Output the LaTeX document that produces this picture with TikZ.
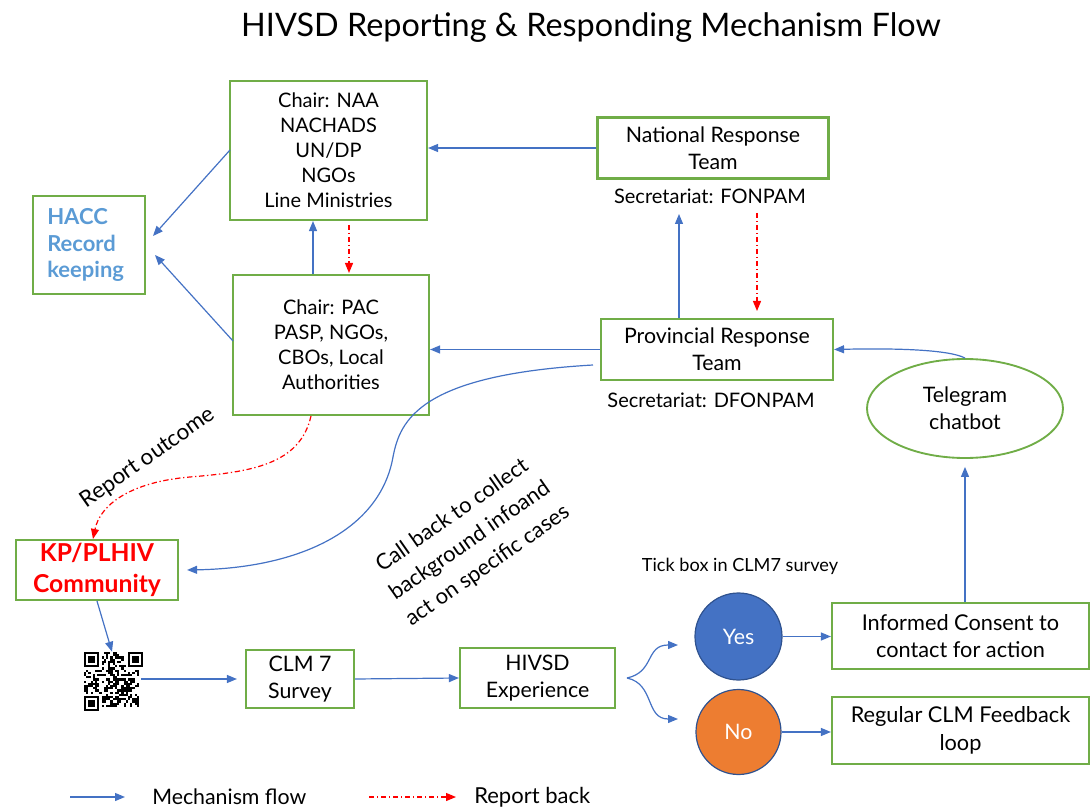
\documentclass[tikz,border=0pt]{standalone}
\usepackage{fontspec}
\setmainfont{Lato}
\usetikzlibrary{arrows.meta,shapes.geometric}
\newcommand{\px}{0.75pt}
\definecolor{bflow}{HTML}{4472C4}
\definecolor{gbox}{HTML}{70AD47}
\definecolor{rback}{HTML}{FF0000}
\definecolor{hacc}{HTML}{5B9BD5}
\definecolor{yesc}{HTML}{4472C4}
\definecolor{noc}{HTML}{ED7D31}
\definecolor{circedge}{HTML}{2F528F}
\tikzset{
  gbx/.style={draw=gbox, line width=1.6pt, align=center, inner sep=0pt,
    font=\fontsize{15}{18.75}\selectfont},
  big/.style={font=\fontsize{16}{20}\selectfont},
  flow/.style={draw=bflow, line width=0.9pt, -{Triangle[length=7.5pt,width=6pt]}},
  back/.style={draw=rback, line width=0.9pt, dash pattern=on 4pt off 2pt on 1pt off 2pt,
    -{Triangle[length=7.5pt,width=6pt]}},
  circ/.style={circle, draw=circedge, line width=0.9pt, inner sep=0pt, text=white,
    font=\fontsize{16}{18}\selectfont},
  lbl/.style={align=center, inner sep=0pt, font=\fontsize{15}{18.75}\selectfont}
}
\begin{document}
\begin{tikzpicture}[x=0.75pt,y=-0.75pt]
\useasboundingbox (0,0) rectangle (1090,809);
% title
\node[inner sep=0pt, font=\fontsize{24.3}{28}\selectfont] (title) at (591,28) {HIVSD Reporting \& Responding Mechanism Flow};
% boxes
\node[gbx, minimum width=197*\px, minimum height=139*\px] (A) at (328.5,150.5)
  {Chair: NAA\\NACHADS\\UN/DP\\NGOs\\Line Ministries};
\node[gbx, minimum width=112*\px, minimum height=98*\px] (hacc) at (89,245) {};
\node[anchor=west, inner sep=0pt, align=left, text=hacc,
  font=\fontsize{16.5}{20}\selectfont\bfseries] (hacct) at (47,245)
  {HACC\\Record\\keeping};
\node[gbx, minimum width=196*\px, minimum height=140*\px] (B) at (331,345)
  {Chair: PAC\\PASP, NGOs,\\CBOs, Local\\Authorities};
\node[gbx, big, minimum width=231*\px, minimum height=61*\px] (nrt) at (713,148)
  {National Response\\Team};
\node[lbl] (nrts) at (710,196) {Secretariat: FONPAM};
\node[gbx, big, minimum width=232*\px, minimum height=61*\px] (prt) at (717,349.5)
  {Provincial Response\\Team};
\node[lbl] (prts) at (711,400) {Secretariat: DFONPAM};
\node[ellipse, draw=gbox, line width=1.4pt, minimum width=196*\px, minimum height=99*\px,
  inner sep=0pt, align=center, font=\fontsize{16}{20}\selectfont] (tg) at (965,408.5)
  {Telegram\\chatbot};
\node[gbx, minimum width=162*\px, minimum height=60*\px, text=rback,
  font=\fontsize{18.5}{23.5}\selectfont\bfseries] (kp) at (97,570) {KP/PLHIV\\Community};
\node[minimum width=57*\px, minimum height=54*\px, inner sep=0pt] (qr) at (112,679) {};
\node[gbx, big, minimum width=108*\px, minimum height=58*\px] (clm) at (300,679) {CLM 7\\Survey};
\node[gbx, big, minimum width=155*\px, minimum height=60*\px] (hiv) at (537.5,678) {HIVSD\\Experience};
\node[circ, fill=yesc, minimum size=87*\px] (yes) at (738.5,636.5) {Yes};
\node[circ, fill=noc, minimum size=85*\px] (no) at (738.5,732) {No};
\node[gbx, minimum width=257*\px, minimum height=66*\px, font=\fontsize{16.3}{20.5}\selectfont] (ic) at (960.5,636) {Informed Consent to\\contact for action};
\node[gbx, minimum width=257*\px, minimum height=67*\px, font=\fontsize{16.3}{20.5}\selectfont] (reg) at (960.5,730.5) {Regular CLM Feedback\\loop};
\node[inner sep=0pt, font=\fontsize{13.6}{16}\selectfont] (tick) at (740,566) {Tick box in CLM7 survey};
% QR code
\pgfmathsetseed{17}
\foreach \i in {0,...,24}{\foreach \j in {0,...,24}{
  \pgfmathsetmacro\rr{rnd}
  \ifdim\rr pt<0.5pt \fill (84+\i*2.2,652+\j*2.2) rectangle ++(2.2,2.2); \fi
}}
\foreach \ox/\oy in {84/652, 128/652, 84/696}{
  \fill[white] (\ox-0.5,\oy-0.5) rectangle ++(18.6,18.6);
  \fill (\ox,\oy) rectangle ++(15.4,15.4);
  \fill[white] (\ox+2.2,\oy+2.2) rectangle ++(11,11);
  \fill (\ox+4.4,\oy+4.4) rectangle ++(6.6,6.6);
}
\fill[white] (128-2.2,652) rectangle (128,652+17.6);
\fill[white] (84,696-2.2) rectangle (84+17.6,696);
% connectors
\draw[flow] (nrt.west) -- (nrt.west -| A.east);
\draw[flow] (230,150) -- (153,236);
\draw[flow] (233,341) -- (155,255);
\draw[flow] (B.north -| 313,0) -- (A.south -| 313,0);
\draw[back] (349,225) -- (349,273);
\draw[flow] (prt.north -| 679,0) -- (679,214);
\draw[back] (757,213) -- (757,311);
\draw[flow] (prt.west) -- (prt.west -| B.east);
\draw[flow] (tg.north) .. controls (950,350) and (900,348) .. (prt.east);
\draw[flow] (ic.north -| tg.south) -- ([yshift=-6pt]tg.south);
\draw[flow] (yes.east) -- (ic.west |- yes.east);
\draw[flow] (no.east) -- (reg.west |- no.east);
\draw[flow] (clm.east) -- (hiv.west);
\draw[flow] (qr.east) -- ([xshift=-6pt]clm.west);
\draw[flow] (kp.south) -- (qr.north);
\coordinate (br) at (627,678);
\draw[flow] (br) .. controls (655,672) and (645,645) .. (678,645);
\draw[flow] (br) .. controls (655,684) and (645,719) .. (678,719);
\draw[flow] (593,365) .. controls (420,375) and (400,420) .. (393,457)
  .. controls (380,530) and (300,568) .. ([xshift=6pt]kp.east);
\draw[back] (311,416) .. controls (300,465) and (250,472) .. (190,477)
  .. controls (130,482) and (100,505) .. (kp.north -| 93,0);
% labels
\node[lbl, rotate=35, font=\fontsize{16.8}{20}\selectfont] (ro) at (148,458) {Report outcome};
\node[lbl, rotate=35, font=\fontsize{16.4}{23}\selectfont] (cb) at (470,541) {Call back to collect\\background infoand\\act on specific cases};
% legend
\coordinate (l1a) at (70,797); \coordinate (l1b) at (125,797);
\draw[flow] (l1a) -- (l1b);
\node[lbl, big, anchor=west] (l1) at (152,797) {Mechanism flow};
\coordinate (l2a) at (369,797); \coordinate (l2b) at (456,797);
\draw[back] (l2a) -- (l2b);
\node[lbl, anchor=west, font=\fontsize{16.5}{20}\selectfont] (l2) at (474,797) {Report back};
\end{tikzpicture}
\end{document}
